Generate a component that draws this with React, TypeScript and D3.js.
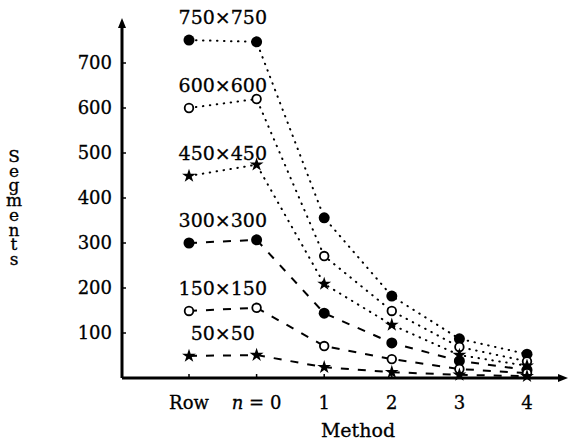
import * as d3 from "d3";

const methods = ["Row", "n=0", "1", "2", "3", "4"];
const sizes = ["750×750", "600×600", "450×450", "300×300", "150×150", "50×50"];
const seg750 = [751, 747, 356, 182, 87, 53];
const seg600 = [600, 620, 271, 149, 69, 37];
const seg450 = [449, 474, 209, 118, 51, 27];
const seg300 = [300, 307, 144, 78, 38, 18];
const seg150 = [149, 156, 71, 42, 20, 11];
const seg50 = [49, 51, 24, 13, 7, 4];
const yTicks = [100, 200, 300, 400, 500, 600, 700];
const yLabel = "Segments";

const series = [
  { name: sizes[0], values: seg750, marker: "filled", dotted: true },
  { name: sizes[1], values: seg600, marker: "open", dotted: true },
  { name: sizes[2], values: seg450, marker: "star", dotted: true },
  { name: sizes[3], values: seg300, marker: "filled", dotted: false },
  { name: sizes[4], values: seg150, marker: "open", dotted: false },
  { name: sizes[5], values: seg50, marker: "star", dotted: false },
];

const font = "'DejaVu Serif', serif";

export default function App() {
  const W = 571;
  const H = 444;
  const axisX = 122;
  const axisY = 378;

  const x = d3.scalePoint<string>().domain(methods).range([189, 527]);
  const y = d3.scaleLinear().domain([0, 700]).range([axisY, axisY - 315]);

  const line = d3
    .line<number>()
    .x((_, i) => x(methods[i]) as number)
    .y((d) => y(d));

  const star = d3.symbol().type(d3.symbolStar).size(60)() as string;

  const marker = (kind: string, cx: number, cy: number, key: string) => {
    if (kind === "filled")
      return <circle key={key} cx={cx} cy={cy} r={5.5} fill="#000" />;
    if (kind === "open")
      return (
        <circle key={key} cx={cx} cy={cy} r={4.3} fill="#fff" stroke="#000" strokeWidth={1.8} />
      );
    return <path key={key} d={star} transform={`translate(${cx},${cy})`} fill="#000" />;
  };

  return (
    <svg width={W} height={H} style={{ position: "absolute", left: 0, top: 0, background: "#fff" }}>
      {/* series lines */}
      {series.map((s) => (
        <path
          key={"l" + s.name}
          d={line(s.values) as string}
          fill="none"
          stroke="#000"
          strokeWidth={2}
          strokeLinecap={s.dotted ? "round" : "butt"}
          strokeDasharray={s.dotted ? "0.5,6.5" : "8,9"}
        />
      ))}
      {/* markers */}
      {series.map((s) =>
        s.values.map((v, i) => marker(s.marker, x(methods[i]) as number, y(v), s.name + i))
      )}
      {/* size labels */}
      {series.map((s) => (
        <text
          key={"t" + s.name}
          x={((x(methods[0]) as number) + (x(methods[1]) as number)) / 2}
          y={y(s.values[0]) - 16}
          textAnchor="middle"
          fontFamily={font}
          fontSize={19}
          stroke="#000"
          strokeWidth={0.3}
        >
          {s.name}
        </text>
      ))}

      {/* axes */}
      <line x1={axisX} y1={axisY} x2={axisX} y2={26} stroke="#000" strokeWidth={3} />
      <path d={`M${axisX - 4},${28} L${axisX},${18} L${axisX + 4},${28} Z`} fill="#000" />
      <line x1={axisX} y1={axisY} x2={560} y2={axisY} stroke="#000" strokeWidth={3} />
      <path d={`M${558},${axisY - 4} L${568},${axisY} L${558},${axisY + 4} Z`} fill="#000" />

      {yTicks.map((t) => (
        <g key={"yt" + t}>
          <line x1={axisX} x2={axisX + 4} y1={y(t)} y2={y(t)} stroke="#000" strokeWidth={1.5} />
          <text
            x={112}
            y={y(t) + 6}
            textAnchor="end"
            fontFamily={font}
            fontSize={18}
            stroke="#000"
            strokeWidth={0.3}
          >
            {t}
          </text>
        </g>
      ))}

      {methods.map((m) => (
        <g key={"xt" + m}>
          <line
            x1={x(m) as number}
            x2={x(m) as number}
            y1={axisY}
            y2={axisY - 4}
            stroke="#000"
            strokeWidth={1.5}
          />
          <text
            x={x(m) as number}
            y={409}
            textAnchor="middle"
            fontFamily={font}
            fontSize={18}
            stroke="#000"
            strokeWidth={0.3}
          >
            {m === "n=0" ? (
              <>
                <tspan fontStyle="italic">n</tspan>
                <tspan> = 0</tspan>
              </>
            ) : (
              m
            )}
          </text>
        </g>
      ))}

      <text
        x={358}
        y={437}
        textAnchor="middle"
        fontFamily={font}
        fontSize={19}
        stroke="#000"
        strokeWidth={0.3}
      >
        Method
      </text>

      {/* stacked vertical axis title */}
      <text
        x={14}
        y={146}
        fontFamily={font}
        fontSize={17}
        stroke="#000"
        strokeWidth={0.3}
        style={{
          writingMode: "vertical-rl",
          textOrientation: "upright",
          letterSpacing: "-5.3px",
        } as any}
      >
        {yLabel}
      </text>
    </svg>
  );
}
